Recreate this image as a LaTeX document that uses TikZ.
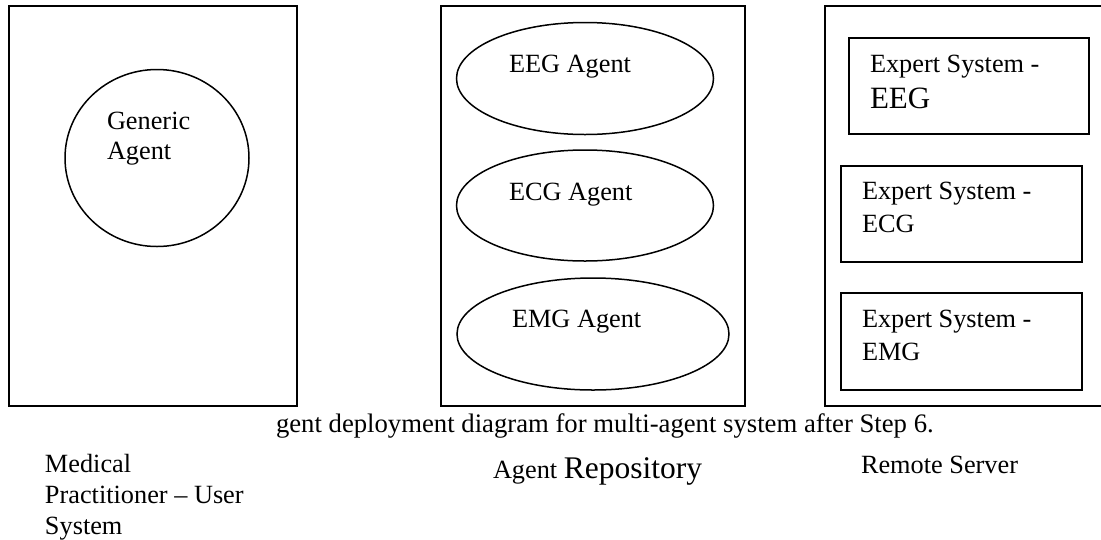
\documentclass[tikz,border=0pt]{standalone}
\usepackage{fontspec}
\setmainfont{Liberation Serif}
\usetikzlibrary{shapes.geometric}
\newcommand\dgmfont{\fontsize{26.3}{30}\selectfont}
\begin{document}
\begin{tikzpicture}[x=1pt,y=-1pt,line width=1.5pt,
  frame/.style={draw,rectangle,inner sep=0pt,outer sep=0pt,anchor=north west},
  agentshape/.style={draw,ellipse,inner sep=0pt,outer sep=0pt},
  txt/.style={anchor=base west,inner sep=0pt,outer sep=0pt,font=\dgmfont}]
\useasboundingbox (0,0) rectangle (1101,539);
% Medical practitioner system
\node[frame,minimum width=288pt,minimum height=400pt] (user) at (9,6) {};
\node[agentshape,minimum width=184pt,minimum height=177pt] (generic) at (157,158) {};
\node[txt] (generictxt) at (107,129) {\begin{tabular}[t]{@{}l@{}}Generic\\Agent\end{tabular}};
% Agent repository
\node[frame,minimum width=304pt,minimum height=400pt] (repo) at (441,6) {};
\node[agentshape,minimum width=257pt,minimum height=112pt] (eeg) at (585,78.5) {};
\node[agentshape,minimum width=257pt,minimum height=111pt] (ecg) at (585,205.5) {};
\node[agentshape,minimum width=272pt,minimum height=112pt] (emg) at (593,334) {};
\node[txt] (eegtxt) at (509,72) {EEG Agent};
\node[txt] (ecgtxt) at (509,200) {ECG Agent};
\node[txt] (emgtxt) at (512,327) {EMG Agent};
% Remote server
\coordinate (srvtop) at (1101,6);
\coordinate (srvbot) at (1101,406);
\draw (srvtop) -| (825,406) -- (srvbot);
\node[frame,minimum width=240pt,minimum height=96pt] (es1) at (849,38) {};
\node[frame,minimum width=241pt,minimum height=96pt] (es2) at (841,166) {};
\node[frame,minimum width=241pt,minimum height=97pt] (es3) at (841,293) {};
\node[txt,font=\fontsize{26.3}{36}\selectfont] (es1txt) at (870,72) {\begin{tabular}[t]{@{}l@{}}Expert System -\\{\fontsize{31}{36}\selectfont EEG}\end{tabular}};
\node[txt,font=\fontsize{26.3}{33}\selectfont] (es2txt) at (862,199) {\begin{tabular}[t]{@{}l@{}}Expert System -\\ECG\end{tabular}};
\node[txt,font=\fontsize{26.3}{33}\selectfont] (es3txt) at (862,327) {\begin{tabular}[t]{@{}l@{}}Expert System -\\EMG\end{tabular}};
% Caption and labels
\node[txt,font=\fontsize{26.7}{30}\selectfont] (caption) at (276,432) {gent deployment diagram for multi-agent system after Step 6.};
\node[txt,font=\fontsize{26.3}{31}\selectfont] (userlbl) at (45,472) {\begin{tabular}[t]{@{}l@{}}Medical\\Practitioner -- User\\System\end{tabular}};
\node[txt] (repolbl) at (493,478) {Agent {\fontsize{31.5}{36}\selectfont Repository}};
\node[txt] (srvlbl) at (861,473) {Remote Server};
\end{tikzpicture}
\end{document}
